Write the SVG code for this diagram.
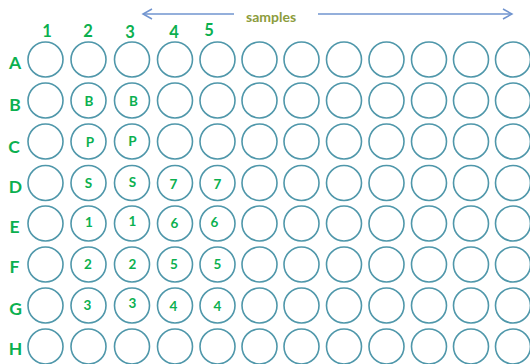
<svg xmlns="http://www.w3.org/2000/svg" width="530" height="364" viewBox="0 0 530 364">
<defs>
<style>
.w{fill:#ffffff;stroke:#4f97aa;stroke-width:1.6}
.lbl{font-family:Lato,"Liberation Sans",sans-serif;font-weight:bold;fill:#0bb04f;text-anchor:middle}
.row{font-size:17.5px}
.col{font-size:16.5px}
.in{font-size:13.5px}
.smp{font-family:Lato,"Liberation Sans",sans-serif;font-weight:bold;font-size:14px;fill:#8c9c3c}
.arr{stroke:#7094cf;stroke-width:1.5;fill:none}
</style>
</defs>
<rect width="530" height="364" fill="#ffffff"/>
<g id="connectors">
<line class="arr" x1="143" y1="14" x2="234" y2="14"/>
<polyline class="arr" points="152,9 143,14 152,19"/>
<line class="arr" x1="318" y1="14" x2="512" y2="14"/>
<polyline class="arr" points="503,9 512,14 503,19"/>
</g>
<g id="header">
<text class="smp" x="246" y="22">samples</text>
<text class="lbl col" x="47" y="37">1</text>
<text class="lbl col" x="88" y="37">2</text>
<text class="lbl col" x="130" y="37.5">3</text>
<text class="lbl col" x="174" y="38">4</text>
<text class="lbl col" x="209" y="35.5">5</text>
</g>
<g id="row-labels">
<text class="lbl row" x="15" y="69">A</text>
<text class="lbl row" x="15" y="111">B</text>
<text class="lbl row" x="14" y="153">C</text>
<text class="lbl row" x="15.5" y="193">D</text>
<text class="lbl row" x="14.5" y="233">E</text>
<text class="lbl row" x="14.5" y="273">F</text>
<text class="lbl row" x="15.5" y="315">G</text>
<text class="lbl row" x="15.5" y="355">H</text>
</g>
<g id="wells">
<g id="row-A">
<circle class="w" cx="45.5" cy="59.5" r="17.5"/><circle class="w" cx="88.5" cy="59.5" r="17.5"/><circle class="w" cx="132" cy="59.5" r="17.5"/><circle class="w" cx="175" cy="59.5" r="17.5"/><circle class="w" cx="217.5" cy="59.5" r="17.5"/><circle class="w" cx="259.5" cy="59.5" r="17.5"/><circle class="w" cx="301.5" cy="59.5" r="17.5"/><circle class="w" cx="344" cy="59.5" r="17.5"/><circle class="w" cx="386.5" cy="59.5" r="17.5"/><circle class="w" cx="429" cy="59.5" r="17.5"/><circle class="w" cx="471" cy="59.5" r="17.5"/><circle class="w" cx="513" cy="59.5" r="17.5"/>
</g>
<g id="row-B">
<circle class="w" cx="45.5" cy="100.5" r="17.5"/><circle class="w" cx="88.5" cy="100.5" r="17.5"/><circle class="w" cx="132" cy="100.5" r="17.5"/><circle class="w" cx="175" cy="100.5" r="17.5"/><circle class="w" cx="217.5" cy="100.5" r="17.5"/><circle class="w" cx="259.5" cy="100.5" r="17.5"/><circle class="w" cx="301.5" cy="100.5" r="17.5"/><circle class="w" cx="344" cy="100.5" r="17.5"/><circle class="w" cx="386.5" cy="100.5" r="17.5"/><circle class="w" cx="429" cy="100.5" r="17.5"/><circle class="w" cx="471" cy="100.5" r="17.5"/><circle class="w" cx="513" cy="100.5" r="17.5"/>
<text class="lbl in" x="89" y="105.5">B</text><text class="lbl in" x="133.5" y="105.5">B</text>
</g>
<g id="row-C">
<circle class="w" cx="45.5" cy="141.5" r="17.5"/><circle class="w" cx="88.5" cy="141.5" r="17.5"/><circle class="w" cx="132" cy="141.5" r="17.5"/><circle class="w" cx="175" cy="141.5" r="17.5"/><circle class="w" cx="217.5" cy="141.5" r="17.5"/><circle class="w" cx="259.5" cy="141.5" r="17.5"/><circle class="w" cx="301.5" cy="141.5" r="17.5"/><circle class="w" cx="344" cy="141.5" r="17.5"/><circle class="w" cx="386.5" cy="141.5" r="17.5"/><circle class="w" cx="429" cy="141.5" r="17.5"/><circle class="w" cx="471" cy="141.5" r="17.5"/><circle class="w" cx="513" cy="141.5" r="17.5"/>
<text class="lbl in" x="90" y="147">P</text><text class="lbl in" x="132.5" y="146">P</text>
</g>
<g id="row-D">
<circle class="w" cx="45.5" cy="183" r="17.5"/><circle class="w" cx="88.5" cy="183" r="17.5"/><circle class="w" cx="132" cy="183" r="17.5"/><circle class="w" cx="175" cy="183" r="17.5"/><circle class="w" cx="217.5" cy="183" r="17.5"/><circle class="w" cx="259.5" cy="183" r="17.5"/><circle class="w" cx="301.5" cy="183" r="17.5"/><circle class="w" cx="344" cy="183" r="17.5"/><circle class="w" cx="386.5" cy="183" r="17.5"/><circle class="w" cx="429" cy="183" r="17.5"/><circle class="w" cx="471" cy="183" r="17.5"/><circle class="w" cx="513" cy="183" r="17.5"/>
<text class="lbl in" x="88.5" y="188">S</text><text class="lbl in" x="132.5" y="187">S</text><text class="lbl in" x="173.5" y="189">7</text><text class="lbl in" x="217.5" y="189">7</text>
</g>
<g id="row-E">
<circle class="w" cx="45.5" cy="223.5" r="17.5"/><circle class="w" cx="88.5" cy="223.5" r="17.5"/><circle class="w" cx="132" cy="223.5" r="17.5"/><circle class="w" cx="175" cy="223.5" r="17.5"/><circle class="w" cx="217.5" cy="223.5" r="17.5"/><circle class="w" cx="259.5" cy="223.5" r="17.5"/><circle class="w" cx="301.5" cy="223.5" r="17.5"/><circle class="w" cx="344" cy="223.5" r="17.5"/><circle class="w" cx="386.5" cy="223.5" r="17.5"/><circle class="w" cx="429" cy="223.5" r="17.5"/><circle class="w" cx="471" cy="223.5" r="17.5"/><circle class="w" cx="513" cy="223.5" r="17.5"/>
<text class="lbl in" x="89" y="227">1</text><text class="lbl in" x="132.5" y="226">1</text><text class="lbl in" x="174.5" y="228">6</text><text class="lbl in" x="214.5" y="227">6</text>
</g>
<g id="row-F">
<circle class="w" cx="45.5" cy="264.5" r="17.5"/><circle class="w" cx="88.5" cy="264.5" r="17.5"/><circle class="w" cx="132" cy="264.5" r="17.5"/><circle class="w" cx="175" cy="264.5" r="17.5"/><circle class="w" cx="217.5" cy="264.5" r="17.5"/><circle class="w" cx="259.5" cy="264.5" r="17.5"/><circle class="w" cx="301.5" cy="264.5" r="17.5"/><circle class="w" cx="344" cy="264.5" r="17.5"/><circle class="w" cx="386.5" cy="264.5" r="17.5"/><circle class="w" cx="429" cy="264.5" r="17.5"/><circle class="w" cx="471" cy="264.5" r="17.5"/><circle class="w" cx="513" cy="264.5" r="17.5"/>
<text class="lbl in" x="88" y="269">2</text><text class="lbl in" x="132.5" y="269">2</text><text class="lbl in" x="174" y="269">5</text><text class="lbl in" x="217.5" y="269">5</text>
</g>
<g id="row-G">
<circle class="w" cx="45.5" cy="305.5" r="17.5"/><circle class="w" cx="88.5" cy="305.5" r="17.5"/><circle class="w" cx="132" cy="305.5" r="17.5"/><circle class="w" cx="175" cy="305.5" r="17.5"/><circle class="w" cx="217.5" cy="305.5" r="17.5"/><circle class="w" cx="259.5" cy="305.5" r="17.5"/><circle class="w" cx="301.5" cy="305.5" r="17.5"/><circle class="w" cx="344" cy="305.5" r="17.5"/><circle class="w" cx="386.5" cy="305.5" r="17.5"/><circle class="w" cx="429" cy="305.5" r="17.5"/><circle class="w" cx="471" cy="305.5" r="17.5"/><circle class="w" cx="513" cy="305.5" r="17.5"/>
<text class="lbl in" x="87.5" y="310">3</text><text class="lbl in" x="132.5" y="308">3</text><text class="lbl in" x="173.5" y="311">4</text><text class="lbl in" x="217.5" y="311">4</text>
</g>
<g id="row-H">
<circle class="w" cx="45.5" cy="346.5" r="17.5"/><circle class="w" cx="88.5" cy="346.5" r="17.5"/><circle class="w" cx="132" cy="346.5" r="17.5"/><circle class="w" cx="175" cy="346.5" r="17.5"/><circle class="w" cx="217.5" cy="346.5" r="17.5"/><circle class="w" cx="259.5" cy="346.5" r="17.5"/><circle class="w" cx="301.5" cy="346.5" r="17.5"/><circle class="w" cx="344" cy="346.5" r="17.5"/><circle class="w" cx="386.5" cy="346.5" r="17.5"/><circle class="w" cx="429" cy="346.5" r="17.5"/><circle class="w" cx="471" cy="346.5" r="17.5"/><circle class="w" cx="513" cy="346.5" r="17.5"/>
</g>
</g>
</svg>
